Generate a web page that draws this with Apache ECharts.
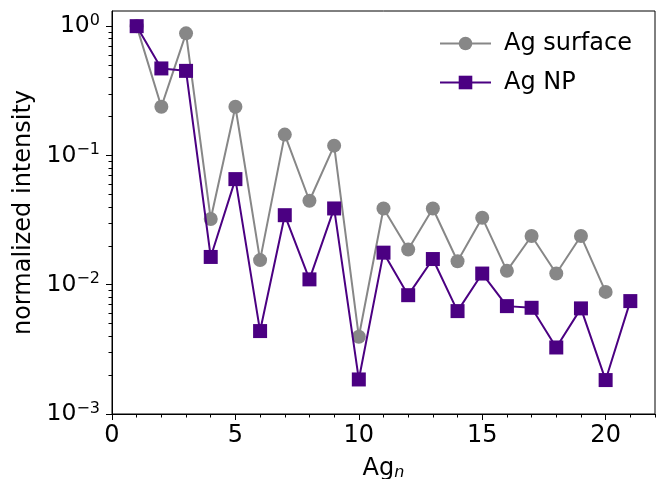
<!DOCTYPE html>
<html><head><meta charset="utf-8">
<script src="https://cdn.jsdelivr.net/npm/echarts@6/dist/echarts.min.js"></script>
<style>html,body{margin:0;padding:0;background:#fff}#c{width:664px;height:479px}</style>
</head><body><div id="c"></div>
<script>
const agN = [1,2,3,4,5,6,7,8,9,10,11,12,13,14,15,16,17,18,19,20,21];
const agSurface = [1.0,0.238,0.88,0.0322,0.238,0.0155,0.145,0.0446,0.119,0.00396,0.0389,0.01875,0.0389,0.0152,0.033,0.0128,0.0238,0.0122,0.0238,0.0088];
const agNP = [1.0,0.471,0.451,0.0164,0.0656,0.00438,0.0345,0.0110,0.0389,0.00185,0.0177,0.0083,0.0158,0.00625,0.0122,0.00683,0.00663,0.00327,0.00656,0.00183,0.00747];
const xMajor = [0,5,10,15,20];
const yMajor = [0.001,0.01,0.1,1];

const xMinor = [];
for (let i = 1; i <= 22; i++) if (i % 5) xMinor.push(i);
const yMinor = [];
for (const d of [0.001,0.01,0.1,1]) for (let k = 2; k <= 9; k++) { const v = +(d*k).toPrecision(3); if (v <= 1.31) yMinor.push(v); }

const FONT = 'DejaVu Sans';
function yFmt(v){
  const e = Math.round(Math.log10(v));
  const s = String(e).replace('-', '\u2212');
  return '{b|10}{s|' + s + '}';
}
const chart = echarts.init(document.getElementById('c'), null, {renderer:'canvas'});
const gridPos = {left:112, top:11, right:9, bottom:65};
chart.setOption({
  animation:false,
  textStyle:{fontFamily:FONT},
  grid:Object.assign({show:true, borderColor:'#000', borderWidth:1, backgroundColor:'transparent', containLabel:false, outerBoundsMode:'none'}, gridPos),
  legend:{
    data:['Ag surface','Ag NP'],
    orient:'vertical', left:434, top:26,
    itemWidth:51, itemHeight:17, itemGap:14,
    textStyle:{fontFamily:FONT, fontSize:24, color:'#000', lineHeight:25, padding:[0,0,0,8]}
  },
  xAxis:[{
    type:'value', min:0, max:22,
    name:'{a|Ag}{n|n}', nameLocation:'middle', nameGap:42,
    nameTextStyle:{rich:{a:{fontFamily:FONT,fontSize:24,color:'#000'}, n:{fontFamily:FONT,fontSize:16,fontStyle:'italic',color:'#000',verticalAlign:'bottom',padding:[9,0,0,0]}}},
    axisLine:{show:true,lineStyle:{color:'#000',width:1}},
    axisTick:{show:true, length:6, customValues:xMajor, lineStyle:{color:'#000',width:1}},
    axisLabel:{customValues:xMajor, fontFamily:FONT, fontSize:24, color:'#000', margin:10},
    splitLine:{show:false}
  },{
    type:'value', min:0, max:22, position:'bottom',
    axisLine:{show:false},
    axisTick:{show:true, length:3.5, customValues:xMinor, lineStyle:{color:'#000',width:1}},
    axisLabel:{show:false},
    splitLine:{show:false}
  }],
  yAxis:[{
    type:'log', logBase:10, min:0.001, max:1.31,
    name:'normalized intensity', nameLocation:'middle', nameRotate:90, nameGap:75,
    nameTextStyle:{fontFamily:FONT, fontSize:24, color:'#000'},
    axisLine:{show:true,lineStyle:{color:'#000',width:1}},
    axisTick:{show:true, length:6, customValues:yMajor, lineStyle:{color:'#000',width:1}},
    axisLabel:{customValues:yMajor, formatter:yFmt, margin:12,
      rich:{b:{fontFamily:FONT,fontSize:23.5,color:'#000',lineHeight:27},
            s:{fontFamily:FONT,fontSize:16,color:'#000',verticalAlign:'top',lineHeight:27}}},
    splitLine:{show:false}
  },{
    type:'log', logBase:10, min:0.001, max:1.31, position:'left',
    axisLine:{show:false},
    axisTick:{show:true, length:3.5, customValues:yMinor, lineStyle:{color:'#000',width:1}},
    axisLabel:{show:false},
    splitLine:{show:false}
  }],
  series:[{
    name:'Ag surface', type:'line',
    data:agSurface.map((v,i)=>[agN[i], v]),
    symbol:'circle', symbolSize:14,
    itemStyle:{color:'#878787'},
    lineStyle:{color:'#878787', width:2},
    z:2
  },{
    name:'Ag NP', type:'line',
    data:agNP.map((v,i)=>[agN[i], v]),
    symbol:'rect', symbolSize:14,
    itemStyle:{color:'#4b0082'},
    lineStyle:{color:'#4b0082', width:2},
    z:3
  }]
});
</script></body></html>
